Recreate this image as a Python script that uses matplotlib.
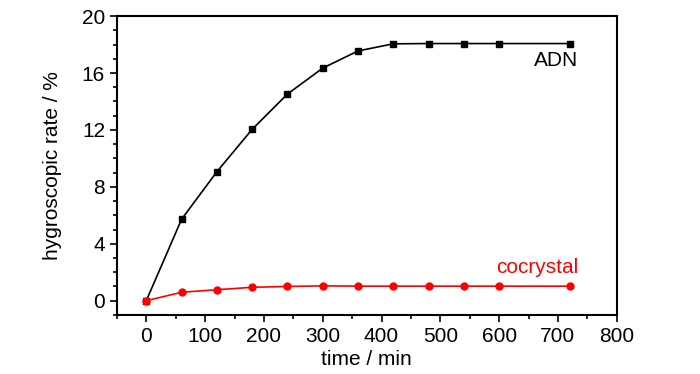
import matplotlib.pyplot as plt
from matplotlib.ticker import MultipleLocator

time_min = [0, 60, 120, 180, 240, 300, 360, 420, 480, 540, 600, 720]
adn = [0, 5.72, 9.06, 12.04, 14.52, 16.34, 17.55, 18.05, 18.07, 18.07, 18.07, 18.07]
cocrystal = [0, 0.59, 0.77, 0.94, 1.0, 1.04, 1.02, 1.02, 1.02, 1.02, 1.02, 1.02]

plt.rcParams['font.family'] = ['Liberation Sans', 'DejaVu Sans']

fig = plt.figure(figsize=(7, 3.74), dpi=100)
ax = fig.add_axes([0.167, 0.158, 0.714, 0.799])

ax.plot(time_min, adn, color="black", marker="s", markersize=5, linewidth=1.2)
ax.plot(time_min, cocrystal, color="red", marker="o", markersize=5, linewidth=1.2)

ax.set_xlim(-50, 800)
ax.set_ylim(-1, 20)
ax.xaxis.set_major_locator(MultipleLocator(100))
ax.xaxis.set_minor_locator(MultipleLocator(50))
ax.yaxis.set_major_locator(MultipleLocator(4))
ax.yaxis.set_minor_locator(MultipleLocator(1))
ax.tick_params(which="major", direction="out", length=5, width=1.2, labelsize=15)
ax.tick_params(which="minor", direction="out", length=3, width=1.2)
for s in ax.spines.values():
    s.set_linewidth(1.5)

ax.set_xlabel("time / min", fontsize=15, labelpad=3)
ax.set_ylabel("hygroscopic rate / %", fontsize=15, labelpad=14)

ax.text(735, 16.85, "ADN", color="black", fontsize=15, ha="right", va="center")
ax.text(735, 2.3, "cocrystal", color="red", fontsize=15, ha="right", va="center")

plt.savefig("out.png", dpi=100)
